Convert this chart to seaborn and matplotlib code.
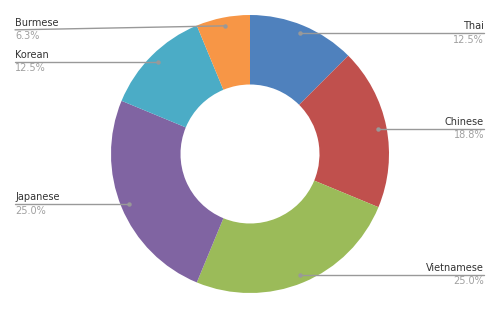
import numpy as np
import matplotlib
matplotlib.use("Agg")
import matplotlib.pyplot as plt
import seaborn as sns

categories = ["Thai", "Chinese", "Vietnamese", "Japanese", "Korean", "Burmese"]
values = [12.5, 18.75, 25.0, 25.0, 12.5, 6.25]
pct_labels = ["12.5%", "18.8%", "25.0%", "25.0%", "12.5%", "6.3%"]
colors = ["#4F81BD", "#C0504D", "#9BBB59", "#8064A2", "#4BACC6", "#F79646"]

sns.set_theme(style="white")
plt.rcParams['font.family'] = ['DejaVu Sans']

fig = plt.figure(figsize=(5.0, 3.09), dpi=100)
ax = fig.add_axes([0, 0, 1, 1])
ax.set_xlim(0, 500)
ax.set_ylim(309, 0)
ax.set_aspect('equal')
ax.axis('off')

cx, cy, R = 250, 154, 139
wedges, _ = ax.pie(values, colors=colors, startangle=90, counterclock=False,
                   radius=R, center=(cx, cy), frame=True,
                   wedgeprops=dict(width=R * 0.5, edgecolor='none'))
ax.set_xlim(0, 500)
ax.set_ylim(309, 0)
ax.axis('off')

# Note: y-axis inverted, so the pie angles are mirrored; correct by mirroring wedges
for w in wedges:
    t1, t2 = w.theta1, w.theta2
    w.set_theta1(-t2)
    w.set_theta2(-t1)

line_c = "#999999"
for w, name, pct in zip(wedges, categories, pct_labels):
    mid = np.deg2rad((w.theta1 + w.theta2) / 2)
    px = cx + 0.94 * R * np.cos(mid)
    py = cy + 0.94 * R * np.sin(mid)
    ax.plot([px], [py], 'o', ms=2.2, color=line_c, zorder=5)
    if px > cx:
        x_end = 484
        ax.plot([px, x_end], [py, py], color=line_c, lw=1.0, zorder=4)
        ax.text(x_end, py - 2, name, ha='right', va='bottom', fontsize=7, color="#333333")
        ax.text(x_end, py + 1.5, pct, ha='right', va='top', fontsize=7, color="#A0A0A0")
    else:
        x_end = 15
        ly = py + 4 if py < 40 else py
        ax.plot([x_end, px], [ly, py], color=line_c, lw=1.0, zorder=4)
        ax.text(x_end, ly - 2, name, ha='left', va='bottom', fontsize=7, color="#333333")
        ax.text(x_end, ly + 1.5, pct, ha='left', va='top', fontsize=7, color="#A0A0A0")

fig.savefig("out.png", dpi=100)
